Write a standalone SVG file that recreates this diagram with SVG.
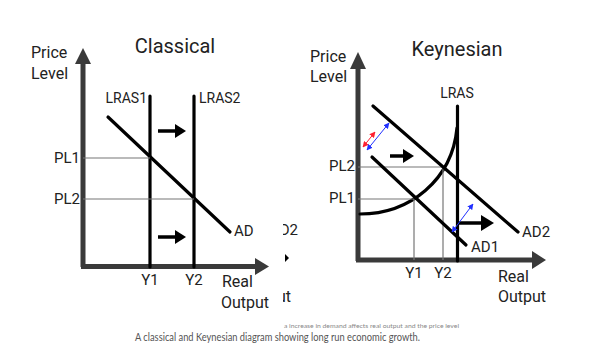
<svg xmlns="http://www.w3.org/2000/svg" width="591" height="363" viewBox="0 0 591 363">
<defs>
<style>
.t{font-family:Roboto,"Liberation Sans",sans-serif;fill:#222}
.ax{stroke:#3a3a3a;stroke-width:5;fill:none}
.axh{fill:#3a3a3a}
.crv{stroke:#000;stroke-width:3.2;fill:none;stroke-linecap:round}
.thin{stroke:#777;stroke-width:1.2;fill:none}
.sh{stroke:#000;stroke-width:3.5;fill:none}
.hd{fill:#000}
</style>
<marker id="bl" viewBox="0 0 10 10" refX="9" refY="5" markerWidth="6" markerHeight="6" orient="auto-start-reverse" markerUnits="userSpaceOnUse"><path d="M0,0 L10,5 L0,10 Z" fill="#2030ff"/></marker>
<marker id="rd" viewBox="0 0 10 10" refX="9" refY="5" markerWidth="6" markerHeight="6" orient="auto-start-reverse" markerUnits="userSpaceOnUse"><path d="M0,0 L10,5 L0,10 Z" fill="#ff2030"/></marker>
<clipPath id="cr"><rect x="283" y="200" width="20" height="110"/></clipPath>
<clipPath id="ct"><rect x="280" y="323.5" width="220" height="10"/></clipPath>
</defs>
<rect width="591" height="363" fill="#fff"/>

<g id="classical">
<g id="c-axes">
<line class="ax" x1="83" y1="60" x2="83" y2="267"/>
<line class="ax" x1="81" y1="266.5" x2="258" y2="266.5"/>
<path class="axh" d="M83,48 L91,64 L75,64 Z"/>
<path class="axh" d="M269,266.5 L255,258 L255,275 Z"/>
<text class="t" x="31" y="58" font-size="16">Price</text>
<text class="t" x="31" y="79" font-size="16">Level</text>
<text class="t" x="175" y="53" font-size="20" text-anchor="middle">Classical</text>
<text class="t" x="222" y="287" font-size="16">Real</text>
<text class="t" x="221" y="308" font-size="16">Output</text>
</g>
<g id="c-lras1"><line class="crv" x1="150" y1="96" x2="150" y2="267" stroke-linecap="butt"/><text class="t" x="147" y="103" font-size="14" text-anchor="end">LRAS1</text></g>
<g id="c-lras2"><line class="crv" x1="194" y1="96" x2="194" y2="267" stroke-linecap="butt"/><text class="t" x="199" y="103" font-size="14">LRAS2</text></g>
<g id="c-ad"><line class="crv" x1="108" y1="117" x2="230" y2="232"/><text class="t" x="234" y="236" font-size="15">AD</text></g>
<g id="c-pl1"><line class="thin" x1="83" y1="158" x2="150" y2="158"/><text class="t" x="80" y="163" font-size="15" text-anchor="end">PL1</text></g>
<g id="c-pl2"><line class="thin" x1="83" y1="199" x2="194" y2="199"/><text class="t" x="80" y="204" font-size="15" text-anchor="end">PL2</text></g>
<g id="c-y1"><text class="t" x="150" y="285" font-size="15" text-anchor="middle">Y1</text></g>
<g id="c-y2"><text class="t" x="194" y="285" font-size="15" text-anchor="middle">Y2</text></g>
<g id="c-arrows">
<line class="sh" x1="158" y1="131" x2="176" y2="131"/><path class="hd" d="M186,131 L175,124 L175,138 Z"/>
<line class="sh" x1="158" y1="237" x2="176" y2="237"/><path class="hd" d="M186,237 L175,230 L175,244 Z"/>
</g>
<g id="c-remnant" clip-path="url(#cr)">
<text class="t" x="298" y="235" font-size="15" text-anchor="end">D2</text>
<path class="hd" d="M289,258 L285,254 L285,262 Z"/>
<text class="t" x="291" y="302" font-size="16" text-anchor="end">ut</text>
</g>
</g>

<g id="keynesian">
<g id="k-axes">
<line class="ax" x1="358" y1="64" x2="358" y2="261"/>
<line class="ax" x1="356" y1="260" x2="535" y2="260"/>
<path class="axh" d="M358,52 L366,69 L350,69 Z"/>
<path class="axh" d="M546,260 L532,251 L532,269 Z"/>
<text class="t" x="310" y="62" font-size="16">Price</text>
<text class="t" x="310" y="82" font-size="16">Level</text>
<text class="t" x="457" y="56" font-size="20" text-anchor="middle">Keynesian</text>
<text class="t" x="498" y="282" font-size="16">Real</text>
<text class="t" x="498" y="302" font-size="16">Output</text>
</g>
<g id="k-lras"><line class="crv" x1="457.5" y1="106" x2="457.5" y2="261" stroke-linecap="butt"/><text class="t" x="457" y="98" font-size="14" text-anchor="middle">LRAS</text></g>
<g id="k-as"><path class="crv" d="M360,214 C410,214 452,180 457,128"/></g>
<g id="k-pl2"><path class="thin" d="M358,167 L443,167 L443,260"/><text class="t" x="355" y="171" font-size="15" text-anchor="end">PL2</text></g>
<g id="k-pl1"><path class="thin" d="M358,199 L414,199 L414,260"/><text class="t" x="355" y="203" font-size="15" text-anchor="end">PL1</text></g>
<g id="k-ad1"><line class="crv" x1="372" y1="157" x2="466" y2="245"/><text class="t" x="471" y="252" font-size="15">AD1</text></g>
<g id="k-ad2"><line class="crv" x1="373" y1="106" x2="518" y2="232"/><text class="t" x="522" y="237" font-size="15">AD2</text></g>
<g id="k-y1"><text class="t" x="414" y="278" font-size="15" text-anchor="middle">Y1</text></g>
<g id="k-y2"><text class="t" x="443" y="278" font-size="15" text-anchor="middle">Y2</text></g>
<g id="k-arrows">
<line class="sh" x1="390" y1="156" x2="404" y2="156"/><path class="hd" d="M414,156 L403,149 L403,163 Z"/>
<line class="sh" x1="458" y1="223" x2="482" y2="223"/><path class="hd" d="M494,223 L481,215 L481,231 Z"/>
<line x1="363" y1="147" x2="375" y2="132" stroke="#ff2030" stroke-width="1" marker-start="url(#rd)" marker-end="url(#rd)"/>
<line x1="367" y1="150" x2="389" y2="123" stroke="#2030ff" stroke-width="1" marker-start="url(#bl)" marker-end="url(#bl)"/>
<line x1="452" y1="232" x2="473" y2="204" stroke="#2030ff" stroke-width="1" marker-start="url(#bl)" marker-end="url(#bl)"/>
</g>
</g>

<g id="caption">
<text x="284" y="328" font-family="Lato,'Liberation Sans',sans-serif" font-size="6.5" fill="#888" clip-path="url(#ct)" textLength="175" lengthAdjust="spacingAndGlyphs">a increase in demand affects real output and the price level</text>
<text x="135" y="341" font-family="Lato,'Liberation Sans',sans-serif" font-size="10.5" fill="#555" textLength="285" lengthAdjust="spacingAndGlyphs">A classical and Keynesian diagram showing long run economic growth.</text>
</g>
</svg>
